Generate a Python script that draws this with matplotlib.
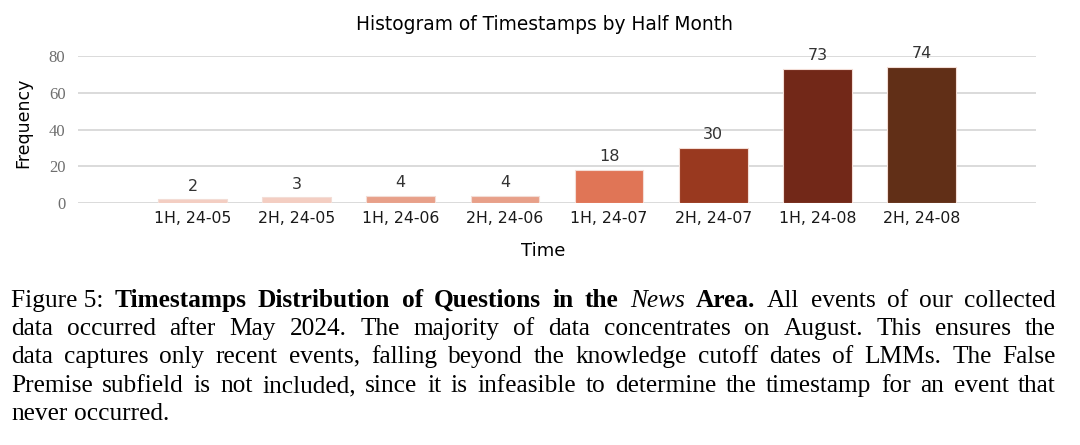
import matplotlib
matplotlib.use('Agg')
import matplotlib.pyplot as plt

# data
halves = ['1H, 24-05', '2H, 24-05', '1H, 24-06', '2H, 24-06',
          '1H, 24-07', '2H, 24-07', '1H, 24-08', '2H, 24-08']
counts = [2, 3, 4, 4, 18, 30, 73, 74]
bar_colors = ['#F4CEC2', '#F4CEC2', '#E8A089', '#E8A089',
              '#E07556', '#99391F', '#722818', '#612F17']
yticks = [0, 20, 40, 60, 80]

caption = [
    [('Figure 5:', 'n'), ('Timestamps', 'b'), ('Distribution', 'b'), ('of', 'b'), ('Questions', 'b'),
     ('in', 'b'), ('the', 'b'), ('News', 'i'), ('Area.', 'b'), ('All', 'n'), ('events', 'n'),
     ('of', 'n'), ('our', 'n'), ('collected', 'n')],
    'data occurred after May 2024.  The majority of data concentrates on August.  This ensures the',
    'data captures only recent events, falling beyond the knowledge cutoff dates of LMMs.  The False',
    'Premise subfield is not included, since it is infeasible to determine the timestamp for an event that',
    'never occurred.',
]

W, H = 1080, 445
fig = plt.figure(figsize=(W / 100, H / 100), dpi=100)
fig.patch.set_facecolor('white')

ax = fig.add_axes([78 / W, 1 - 203 / H, (1036 - 78) / W, (203 - 56) / H])
x = list(range(len(halves)))
bars = ax.bar(x, counts, width=0.66, color=bar_colors, edgecolor='#F3DDD6', linewidth=0.8, zorder=3)
for b, v in zip(bars, counts):
    ax.annotate(str(v), (b.get_x() + b.get_width() / 2, v), xytext=(0, 4), textcoords='offset points',
                ha='center', va='bottom', fontsize=11.5, color='#333333',
                family='DejaVu Sans', annotation_clip=False)

ax.set_xlim(-1.1, 8.1)
ax.set_ylim(0, 80)
ax.set_yticks(yticks)
ax.set_yticklabels([str(t) for t in yticks], family='Liberation Serif', fontsize=12, color='#6E6E6E')
ax.set_xticks(x)
ax.set_xticklabels(halves, family='DejaVu Sans', fontsize=11.3, color='#1A1A1A')
ax.tick_params(axis='both', length=0)
ax.tick_params(axis='y', pad=9)
ax.tick_params(axis='x', pad=6)
ax.grid(axis='y', color='#DADADA', linewidth=1.4, zorder=0)
ax.set_axisbelow(True)
for s in ax.spines.values():
    s.set_visible(False)

fig.text(545 / W, 1 - 24 / H, 'Histogram of Timestamps by Half Month', ha='center', va='center',
         fontsize=13.4, family='DejaVu Sans', color='black')
fig.text(543 / W, 1 - 251 / H, 'Time', ha='center', va='center', fontsize=13,
         family='DejaVu Sans', color='black')
fig.text(23 / W, 1 - 123 / H, 'Frequency', ha='center', va='center', rotation=90,
         fontsize=12.5, family='DejaVu Sans', color='black')

# caption, justified like the paper
cap_size = 18.3
left, right = 11, 1056
baselines = [307, 335, 363, 392, 420]
renderer = fig.canvas.get_renderer()
styles = {'n': dict(), 'b': dict(fontweight='bold'), 'i': dict(fontstyle='italic')}
for i, line in enumerate(caption):
    if isinstance(line, str):
        words = [(w, 'n') for w in line.split(' ') if w]
    else:
        words = line
    texts = []
    for w, st in words:
        t = fig.text(0, 1 - baselines[i] / H, w, ha='left', va='baseline', fontsize=cap_size,
                     family='Liberation Serif', color='black', **styles[st])
        texts.append(t)
    widths = [t.get_window_extent(renderer).width for t in texts]
    if i < len(caption) - 1:
        gap = (right - left - sum(widths)) / (len(texts) - 1)
    else:
        gap = cap_size * 1.389 * 0.25
    pos = left
    for t, wd in zip(texts, widths):
        t.set_x(pos / W)
        pos += wd + gap

fig.savefig('out.png', dpi=100, facecolor='white')
